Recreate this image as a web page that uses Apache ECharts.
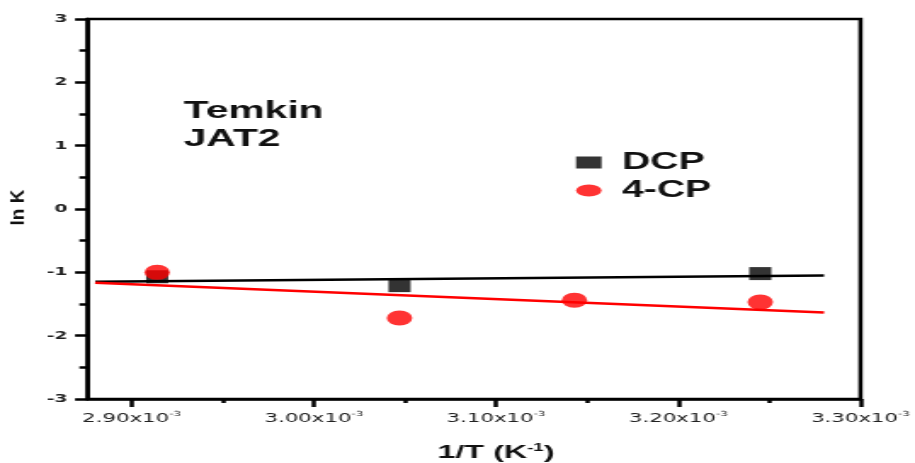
<!DOCTYPE html>
<html>
<head>
<meta charset="utf-8">
<script src="https://cdn.jsdelivr.net/npm/echarts@6/dist/echarts.min.js"></script>
<style>
  html, body { margin: 0; padding: 0; background: #fff; overflow: hidden; }
  /* the plot is laid out narrow and widened to the page width */
  #chart { width: 538px; height: 463px; transform: scaleX(1.70074); transform-origin: 0 0; }
</style>
</head>
<body>
<div id="chart"></div>
<script>
// 1/T (K^-1) of each measurement temperature
const invTempDCP = [2.914e-3, 3.047e-3, 3.245e-3];
const lnKDCP = [-1.07, -1.21, -1.02];
const invTemp4CP = [2.914e-3, 3.047e-3, 3.143e-3, 3.245e-3];
const lnK4CP = [-1.00, -1.72, -1.44, -1.47];

// straight-line fits, given by their two ends
const fitXDCP = [2.880e-3, 3.280e-3];
const fitYDCP = [-1.15, -1.05];
const fitX4CP = [2.880e-3, 3.280e-3];
const fitY4CP = [-1.165, -1.635];

// axis ticks
const xMajorTicks = [2.90e-3, 3.00e-3, 3.10e-3, 3.20e-3, 3.30e-3];
const xMinorTicks = [2.95e-3, 3.05e-3, 3.15e-3, 3.25e-3];
const seriesNames = ['DCP', '4-CP'];
const panelLines = ['Temkin', 'JAT2'];

const FONT = "'Liberation Sans', Arial, sans-serif";
const TICK_FONT = "'DejaVu Sans', sans-serif";
const ELLIPSE = 'path://M0,50A50,50,0,1,1,100,50A50,50,0,1,1,0,50Z';
const pairs = (xs, ys) => xs.map((x, i) => [x, ys[i]]);
const X_MIN = 2.876e-3, X_MAX = 3.30e-3;

const chart = echarts.init(document.getElementById('chart'));

chart.setOption({
  animation: false,
  backgroundColor: '#fff',
  grid: {
    left: 51.7, right: 28.8, top: 19, bottom: 64,
    show: true, borderColor: '#000', borderWidth: 2.5
  },
  legend: {
    orient: 'vertical',
    left: 338.7, top: 151, padding: 0,
    itemWidth: 15, itemHeight: 12, itemGap: 5,
    symbolKeepAspect: false,
    data: [
      { name: seriesNames[0], icon: 'rect' },
      { name: seriesNames[1], icon: ELLIPSE }
    ],
    textStyle: {
      fontFamily: FONT, fontSize: 23, fontWeight: 'bold', color: '#111',
      padding: [0, 0, 0, 7]
    }
  },
  xAxis: [
    {
      type: 'value', min: X_MIN, max: X_MAX, position: 'bottom',
      axisLine: { show: true, onZero: false, lineStyle: { color: '#000', width: 2.5 } },
      axisTick: { show: true, customValues: xMajorTicks, length: 8, lineStyle: { color: '#000', width: 2.5 } },
      axisLabel: {
        customValues: xMajorTicks, margin: 12,
        formatter: v => '{m|' + (v * 1000).toFixed(2) + 'x10}{e|-3}',
        rich: {
          m: { fontFamily: TICK_FONT, fontSize: 12.5, color: '#222', lineHeight: 16 },
          e: { fontFamily: TICK_FONT, fontSize: 7, color: '#222', verticalAlign: 'top', lineHeight: 16 }
        }
      },
      splitLine: { show: false }
    },
    {
      type: 'value', min: X_MIN, max: X_MAX, position: 'bottom',
      axisLine: { show: false, onZero: false },
      axisTick: { show: true, customValues: xMinorTicks, length: 4, lineStyle: { color: '#000', width: 2.5 } },
      axisLabel: { show: false },
      splitLine: { show: false }
    }
  ],
  yAxis: {
    type: 'value', min: -3, max: 3, interval: 1,
    axisLine: { show: true, onZero: false, lineStyle: { color: '#000', width: 2.5 } },
    axisTick: { show: true, length: 7.6, lineStyle: { color: '#000', width: 2.5 } },
    minorTick: { show: true, splitNumber: 2, length: 5, lineStyle: { color: '#000', width: 2.5 } },
    axisLabel: { margin: 12, fontFamily: TICK_FONT, fontSize: 11, fontWeight: 'bold', color: '#222' },
    splitLine: { show: false },
    minorSplitLine: { show: false }
  },
  series: [
    {
      type: 'line', name: 'DCP fit', data: pairs(fitXDCP, fitYDCP),
      symbol: 'none', silent: true, z: 2,
      lineStyle: { color: '#000', width: 2.5 }
    },
    {
      type: 'line', name: '4-CP fit', data: pairs(fitX4CP, fitY4CP),
      symbol: 'none', silent: true, z: 3,
      lineStyle: { color: '#ff0000', width: 2.5 }
    },
    {
      type: 'scatter', name: seriesNames[0], data: pairs(invTempDCP, lnKDCP),
      symbol: 'rect', symbolSize: 13, z: 4,
      itemStyle: { color: '#000' }
    },
    {
      type: 'scatter', name: seriesNames[1], data: pairs(invTemp4CP, lnK4CP),
      symbol: 'circle', symbolSize: 15, z: 5,
      itemStyle: { color: '#ff0000' }
    }
  ],
  graphic: [
    {
      type: 'text', left: 108, top: 97,
      style: {
        text: panelLines.join('\n'), fontFamily: FONT, fontSize: 24, fontWeight: 'bold',
        lineHeight: 28, fill: '#111'
      }
    },
    {
      type: 'text', x: 291.6, y: 453,
      style: {
        text: '{b|1/T (K}{s|-1}{b|)}',
        textAlign: 'center', textVerticalAlign: 'middle',
        rich: {
          b: { fontFamily: FONT, fontSize: 19, fontWeight: 'bold', fill: '#111', lineHeight: 22 },
          s: { fontFamily: FONT, fontSize: 11, fontWeight: 'bold', fill: '#111', verticalAlign: 'top', lineHeight: 22 }
        }
      }
    },
    {
      type: 'text', x: 11.2, y: 207.5, rotation: Math.PI / 2, scaleY: 0.62,
      style: {
        text: 'ln K', fontFamily: FONT, fontSize: 19, fontWeight: 'bold', fill: '#111',
        textAlign: 'center', textVerticalAlign: 'middle'
      }
    }
  ]
});
</script>
</body>
</html>
